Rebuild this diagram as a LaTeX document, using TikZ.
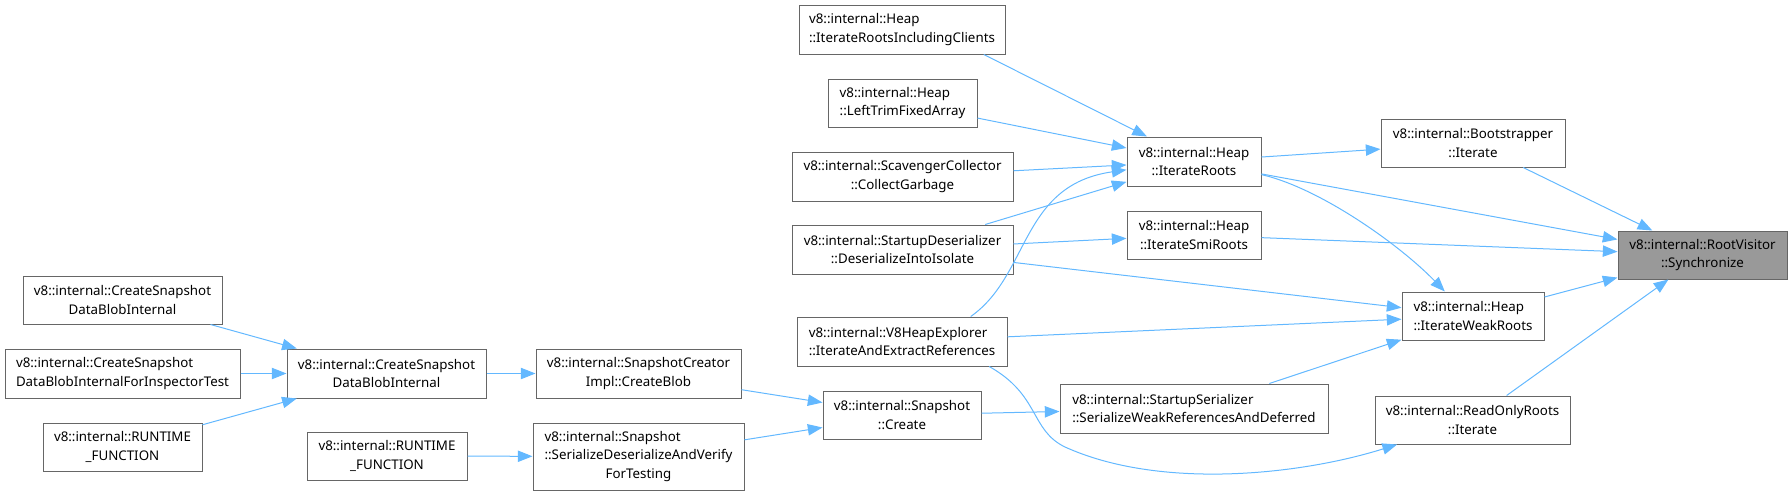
\documentclass[tikz,border=0pt]{standalone}
\usepackage{fontspec}
\setmainfont{Noto Sans}
\usetikzlibrary{arrows.meta}
\definecolor{Edge}{HTML}{63B8FF}
\definecolor{Frame}{HTML}{666666}
\definecolor{RootFill}{HTML}{999999}
\tikzset{
  fnplain/.style={draw=Frame,fill=white,line width=0.75pt,inner sep=0pt,font=\fontsize{10}{14}\selectfont},
  fnbox/.style={fnplain,align=center},
  fnleft/.style={fnplain,align=left},
  rootbox/.style={fnbox,fill=RootFill},
  boxsize/.style 2 args={minimum width={#1*0.75pt},minimum height={#2*0.75pt}},
  call/.style={-{Triangle[length=11pt,width=8.5pt]},draw=Edge,line width=0.75pt}
}

\begin{document}
\begin{tikzpicture}[x=0.75pt,y=-0.75pt]
  \useasboundingbox (0,0) rectangle (1792,496);
  % callers on the left
  \node[fnbox,boxsize={199}{48}] (csdbiA) at (122.5,300) {v8::internal::CreateSnapshot\\DataBlobInternal};
  \node[fnleft,boxsize={235}{49}] (csdbiFit) at (122.5,373.5) {v8::internal::CreateSnapshot\\DataBlobInternalForInspectorTest};
  \node[fnbox,boxsize={159}{48}] (runtimeA) at (122.5,447) {v8::internal::RUNTIME\\\_FUNCTION};
  \node[fnbox,boxsize={199}{49}] (csdbi) at (386.5,373.5) {v8::internal::CreateSnapshot\\DataBlobInternal};
  \node[fnbox,boxsize={160}{48}] (runtimeB) at (387,456) {v8::internal::RUNTIME\\\_FUNCTION};
  \node[fnbox,boxsize={205}{49}] (creatorBlob) at (638.5,373.5) {v8::internal::SnapshotCreator\\Impl::CreateBlob};
  \node[fnplain,boxsize={211}{67}] (serDeser) at (638.5,456.5) {\setbox0=\hbox{::SerializeDeserializeAndVerify}%
    \vbox{\hbox{v8::internal::Snapshot}\copy0\hbox to\wd0{\hfil ForTesting\hfil}}};
  \node[fnbox,boxsize={158}{48}] (snapCreate) at (902,415) {v8::internal::Snapshot\\::Create};
  % middle column
  \node[fnleft,boxsize={206}{49}] (rootsClients) at (902,29.5) {v8::internal::Heap\\::IterateRootsIncludingClients};
  \node[fnleft,boxsize={149}{48}] (leftTrim) at (902.5,103) {v8::internal::Heap\\::LeftTrimFixedArray};
  \node[fnbox,boxsize={221}{49}] (scavenger) at (902.5,176.5) {v8::internal::ScavengerCollector\\::CollectGarbage};
  \node[fnbox,boxsize={221}{49}] (startupDeser) at (902.5,249.5) {v8::internal::StartupDeserializer\\::DeserializeIntoIsolate};
  \node[fnleft,boxsize={210}{49}] (heapExplorer) at (902,341.5) {v8::internal::V8HeapExplorer\\::IterateAndExtractReferences};
  \node[fnleft,boxsize={268}{49}] (startupSer) at (1194,408.5) {v8::internal::StartupSerializer\\::SerializeWeakReferencesAndDeferred};
  % heap iterators
  \node[fnbox,boxsize={134}{49}] (iterRoots) at (1194,161.5) {v8::internal::Heap\\::IterateRoots};
  \node[fnbox,boxsize={134}{48}] (iterSmi) at (1194,235) {v8::internal::Heap\\::IterateSmiRoots};
  \node[fnleft,boxsize={142}{48}] (iterWeak) at (1473,316) {v8::internal::Heap\\::IterateWeakRoots};
  \node[fnbox,boxsize={195}{48}] (readOnly) at (1472.5,420) {v8::internal::ReadOnlyRoots\\::Iterate};
  \node[fnbox,boxsize={184}{48}] (bootstrapper) at (1473,143) {v8::internal::Bootstrapper\\::Iterate};
  \node[rootbox,boxsize={169}{48}] (rootVisitor) at (1702.5,255) {v8::internal::RootVisitor\\::Synchronize};
  % calls
  \draw[call] (csdbiA) -- (csdbi);
  \draw[call] (csdbiFit) -- (csdbi);
  \draw[call] (runtimeA) -- (csdbi);
  \draw[call] (csdbi) -- (creatorBlob);
  \draw[call] (runtimeB) -- (serDeser);
  \draw[call] (creatorBlob) -- (snapCreate);
  \draw[call] (serDeser) -- (snapCreate);
  \draw[call] (snapCreate) -- (startupSer);
  \draw[call] (rootsClients.-17) -- (iterRoots.152);
  \draw[call] (leftTrim) -- (iterRoots);
  \draw[call] (scavenger) -- (iterRoots);
  \draw[call] (startupDeser) -- (iterRoots);
  \draw[call] (heapExplorer.20) .. controls (1030,275) and (1020,185) .. (iterRoots.187);
  \draw[call] (startupDeser) -- (iterSmi);
  \draw[call] (startupDeser) -- (iterWeak);
  \draw[call] (heapExplorer) -- (iterWeak);
  \draw[call] (startupSer) -- (iterWeak);
  \draw[call] (heapExplorer.-16) .. controls (1040,395) and (1030,430) .. (1065,447)
    .. controls (1160,490) and (1300,475) .. (readOnly.198);
  \draw[call] (iterRoots) -- (bootstrapper);
  \draw[call] (iterRoots.-11) .. controls (1320,188) and (1400,245) .. (iterWeak.139);
  \draw[call] (iterRoots) -- (rootVisitor);
  \draw[call] (iterSmi) -- (rootVisitor);
  \draw[call] (iterWeak) -- (rootVisitor);
  \draw[call] (bootstrapper) -- (rootVisitor);
  \draw[call] (readOnly) -- (rootVisitor);
\end{tikzpicture}
\end{document}
